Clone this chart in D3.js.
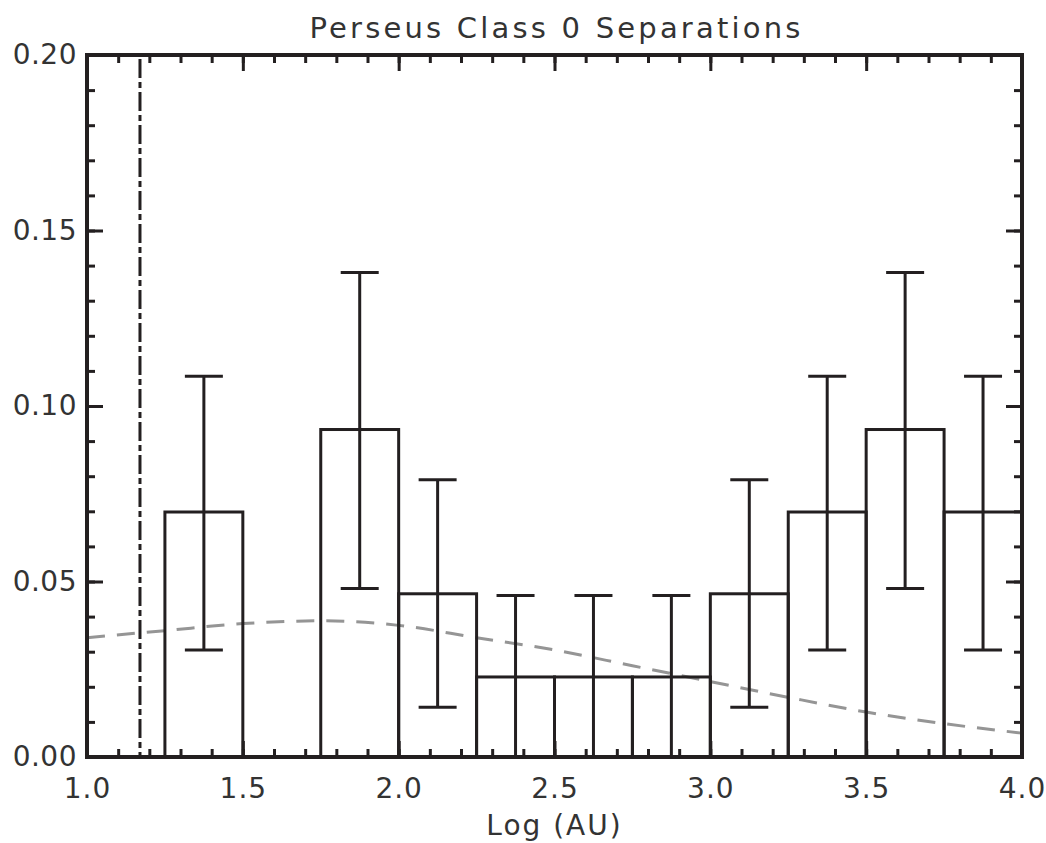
<!DOCTYPE html>
<html>
<head>
<meta charset="utf-8">
<script src="https://cdn.jsdelivr.net/npm/d3@7"></script>
<style>
  body { margin: 0; background: #fff; }
  text { font-family: "DejaVu Sans", sans-serif; fill: #333; }
</style>
</head>
<body>
<div id="chart"></div>
<script>
// histogram bins (log AU) and fraction of systems
var binLo = [1.25, 1.75, 2.00, 2.25, 2.50, 2.75, 3.00, 3.25, 3.50, 3.75];
var binHi = [1.50, 2.00, 2.25, 2.50, 2.75, 3.00, 3.25, 3.50, 3.75, 4.00];
var frac  = [0.0698, 0.0933, 0.0465, 0.0228, 0.0228, 0.0228, 0.0465, 0.0698, 0.0933, 0.0698];
var errLo = [0.0305, 0.0480, 0.0142, 0.0, 0.0, 0.0, 0.0142, 0.0305, 0.0480, 0.0305];
var errHi = [0.1085, 0.1380, 0.0790, 0.0460, 0.0460, 0.0460, 0.0790, 0.1085, 0.1380, 0.1085];

// field binary distribution (dashed)
var fieldX = [1.0, 1.25, 1.5, 1.75, 2.0, 2.25, 2.5, 2.75, 3.0, 3.25, 3.5, 3.75, 4.0];
var fieldY = [0.034, 0.036, 0.038, 0.0388, 0.0375, 0.034, 0.0305, 0.026, 0.0215, 0.017, 0.0128, 0.0095, 0.0068];

// resolution limit
var resLimit = 1.17;

var xTicks = [1.0, 1.5, 2.0, 2.5, 3.0, 3.5, 4.0];
var yTicks = [0.00, 0.05, 0.10, 0.15, 0.20];

var W = 1046, H = 843;
var margin = {left: 87, right: 24, top: 55, bottom: 86};

var svg = d3.select("#chart").append("svg")
    .attr("width", W)
    .attr("height", H);

var x = d3.scaleLinear().domain([1.0, 4.0]).range([margin.left, W - margin.right]);
var y = d3.scaleLinear().domain([0, 0.20]).range([H - margin.bottom, margin.top]);

var x0 = x.range()[0], x1 = x.range()[1], y0 = y.range()[0], y1 = y.range()[1];

// minor ticks (every 0.1 / 0.01)
var xMinor = d3.range(10, 41).map(function(d) { return d / 10; });
var yMinor = d3.range(0, 21).map(function(d) { return d / 100; });

function styleAxis(g) {
    g.select(".domain").remove();
    g.selectAll(".tick line").attr("stroke", "#231f20").attr("stroke-width", 3);
}

svg.append("g").attr("transform", "translate(0," + y0 + ")")
    .call(d3.axisBottom(x).tickValues(xMinor).tickSize(-8).tickFormat(""))
    .call(styleAxis);
svg.append("g").attr("transform", "translate(0," + y1 + ")")
    .call(d3.axisTop(x).tickValues(xMinor).tickSize(-8).tickFormat(""))
    .call(styleAxis);
svg.append("g").attr("transform", "translate(" + x0 + ",0)")
    .call(d3.axisLeft(y).tickValues(yMinor).tickSize(-8).tickFormat(""))
    .call(styleAxis);
svg.append("g").attr("transform", "translate(" + x1 + ",0)")
    .call(d3.axisRight(y).tickValues(yMinor).tickSize(-8).tickFormat(""))
    .call(styleAxis);

// major ticks with labels
var xAxis = svg.append("g").attr("transform", "translate(0," + y0 + ")")
    .call(d3.axisBottom(x).tickValues(xTicks).tickSize(-16).tickPadding(21).tickFormat(d3.format(".1f")))
    .call(styleAxis);
xAxis.selectAll("text").style("font-size", "28px").style("letter-spacing", "1px").attr("fill", "#333");

var yAxis = svg.append("g").attr("transform", "translate(" + x0 + ",0)")
    .call(d3.axisLeft(y).tickValues(yTicks).tickSize(-16).tickPadding(10).tickFormat(d3.format(".2f")))
    .call(styleAxis);
yAxis.selectAll("text").style("font-size", "28px").style("letter-spacing", "0.5px").attr("fill", "#333");

svg.append("g").attr("transform", "translate(0," + y1 + ")")
    .call(d3.axisTop(x).tickValues(xTicks).tickSize(-16).tickFormat(""))
    .call(styleAxis);
svg.append("g").attr("transform", "translate(" + x1 + ",0)")
    .call(d3.axisRight(y).tickValues(yTicks).tickSize(-16).tickFormat(""))
    .call(styleAxis);

// field distribution
var line = d3.line()
    .x(function(d, i) { return x(fieldX[i]); })
    .y(function(d) { return y(d); })
    .curve(d3.curveMonotoneX);

svg.append("path")
    .datum(fieldY)
    .attr("d", line)
    .attr("fill", "none")
    .attr("stroke", "#959595")
    .attr("stroke-width", 3)
    .attr("stroke-dasharray", "18,12");

// resolution limit
svg.append("line")
    .attr("x1", x(resLimit)).attr("x2", x(resLimit))
    .attr("y1", y1 + 4).attr("y2", y0)
    .attr("stroke", "#231f20")
    .attr("stroke-width", 3)
    .attr("stroke-dasharray", "19,4,6,4");

// histogram bars
var bars = svg.append("g");
bars.selectAll("rect")
    .data(frac)
    .enter().append("rect")
    .attr("x", function(d, i) { return x(binLo[i]); })
    .attr("y", function(d) { return y(d); })
    .attr("width", function(d, i) { return x(binHi[i]) - x(binLo[i]); })
    .attr("height", function(d) { return y0 - y(d); })
    .attr("fill", "none")
    .attr("stroke", "#231f20")
    .attr("stroke-width", 3);

// error bars
var cap = 19;
var eb = svg.append("g").attr("stroke", "#231f20").attr("stroke-width", 3);
frac.forEach(function(d, i) {
    var cx = x((binLo[i] + binHi[i]) / 2);
    eb.append("line").attr("x1", cx).attr("x2", cx).attr("y1", y(errLo[i])).attr("y2", y(errHi[i]));
    eb.append("line").attr("x1", cx - cap).attr("x2", cx + cap).attr("y1", y(errHi[i])).attr("y2", y(errHi[i]));
    if (errLo[i] > 0) {
        eb.append("line").attr("x1", cx - cap).attr("x2", cx + cap).attr("y1", y(errLo[i])).attr("y2", y(errLo[i]));
    }
});

// frame
svg.append("rect")
    .attr("x", x0).attr("y", y1)
    .attr("width", x1 - x0).attr("height", y0 - y1)
    .attr("fill", "none")
    .attr("stroke", "#231f20")
    .attr("stroke-width", 4);

// title and label
svg.append("text")
    .attr("x", (x0 + x1) / 2 + 2).attr("y", 38)
    .attr("text-anchor", "middle")
    .style("font-size", "29px")
    .style("letter-spacing", "3.2px")
    .text("Perseus Class 0 Separations");

svg.append("text")
    .attr("x", (x0 + x1) / 2).attr("y", 835)
    .attr("text-anchor", "middle")
    .style("font-size", "28px")
    .style("letter-spacing", "2px")
    .text("Log (AU)");
</script>
</body>
</html>
